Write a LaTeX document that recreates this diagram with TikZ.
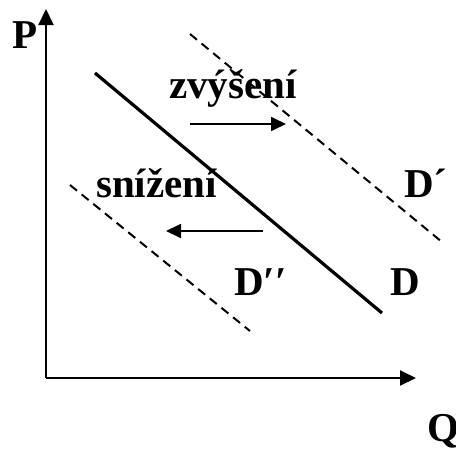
\documentclass[tikz,border=0pt]{standalone}
\usepackage{fontspec}
\setmainfont{Liberation Serif}
\usetikzlibrary{arrows.meta}
\begin{document}
\begin{tikzpicture}[x=1pt,y=-1pt,
  lbl/.style={font=\fontsize{41}{48}\selectfont\bfseries, inner sep=0pt, anchor=base west},
  axis/.style={line width=2pt, -{Triangle[length=16pt,width=15pt]}},
  demand/.style={line width=3.2pt},
  shifted/.style={line width=2pt, dash pattern=on 9pt off 6pt},
  shiftarrow/.style={line width=1.8pt, -{Triangle[length=15pt,width=14pt]}}]
\useasboundingbox (0,0) rectangle (456,448);
% axes
\coordinate (O) at (46,378);
\coordinate (Ptop) at (46,9);
\coordinate (Qend) at (416,378);
\draw[axis] (O) -- (Ptop);
\draw[axis] (O) -- (Qend);
\node[lbl] (P) at (12,48) {P};
\node[lbl] (Q) at (427,441) {Q};
% demand curves
\coordinate (D1) at (95,73);
\coordinate (D2) at (382,313);
\draw[demand] (D1) -- (D2);
\coordinate (U1) at (190,34);
\coordinate (U2) at (442,242);
\draw[shifted] (U1) -- (U2);
\coordinate (L1) at (70,185);
\coordinate (L2) at (250,331);
\draw[shifted] (L1) -- (L2);
% shift arrows
\coordinate (A1) at (190,124);
\coordinate (A2) at (286,124);
\draw[shiftarrow] (A1) -- (A2);
\coordinate (B1) at (263,231);
\coordinate (B2) at (166,231);
\draw[shiftarrow] (B1) -- (B2);
% labels
\node[lbl] (zv) at (169,98) {zvýšení};
\node[lbl] (sn) at (96,197) {snížení};
\node[lbl] (Dup) at (404,197) {D´};
\node[lbl] (Dlow) at (234,295) {D′′};
\node[lbl] (D) at (390,295) {D};
\end{tikzpicture}
\end{document}
